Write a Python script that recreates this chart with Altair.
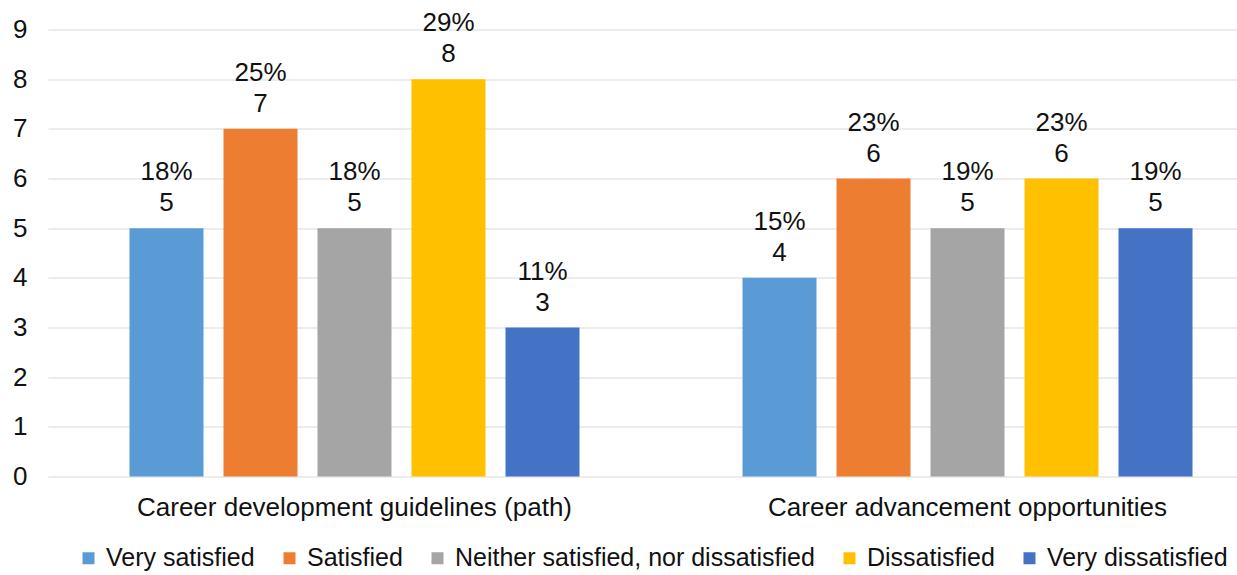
import altair as alt
import pandas as pd

# Survey results: number of respondents per satisfaction level, for two career topics
categories = ["Career development guidelines (path)", "Career advancement opportunities"]
responses = [
    "Very satisfied",
    "Satisfied",
    "Neither satisfied, nor dissatisfied",
    "Dissatisfied",
    "Very dissatisfied",
]
counts_guidelines = [5, 7, 5, 8, 3]
counts_advancement = [4, 6, 5, 6, 5]
pct_guidelines = ["18%", "25%", "18%", "29%", "11%"]
pct_advancement = ["15%", "23%", "19%", "23%", "19%"]
colors = ["#5B9BD5", "#ED7D31", "#A5A5A5", "#FFC000", "#4472C4"]

rows = []
for cat, counts, pcts in [
    (categories[0], counts_guidelines, pct_guidelines),
    (categories[1], counts_advancement, pct_advancement),
]:
    for resp, c, p in zip(responses, counts, pcts):
        rows.append({"group": cat, "response": resp, "count": c, "pct": p})
df = pd.DataFrame(rows)

FONT = "Liberation Sans"
TEXT = "#111111"

base = alt.Chart(df).encode(
    x=alt.X(
        "group:N",
        sort=categories,
        scale=alt.Scale(range=[0, 1226], paddingInner=0.2333, paddingOuter=0.11665),
        axis=alt.Axis(
            title=None,
            labelAngle=0,
            domain=False,
            ticks=False,
            labelFontSize=26,
            labelPadding=18,
            labelColor=TEXT,
            labelFont=FONT,
            labelLimit=800,
        ),
    ),
    xOffset=alt.XOffset(
        "response:N",
        sort=responses,
        scale=alt.Scale(paddingInner=0.2128, paddingOuter=0.1064),
    ),
    y=alt.Y(
        "count:Q",
        scale=alt.Scale(domain=[0, 9], nice=False),
        axis=alt.Axis(
            title=None,
            values=list(range(10)),
            domain=False,
            ticks=False,
            grid=True,
            gridColor="#D9D9D9",
            gridWidth=1.2,
            labelFontSize=26,
            labelPadding=21,
            labelColor=TEXT,
            labelFont=FONT,
        ),
    ),
)

bars = base.mark_bar().encode(
    color=alt.Color(
        "response:N",
        sort=responses,
        scale=alt.Scale(domain=responses, range=colors),
        legend=alt.Legend(
            title=None,
            orient="none",
            legendX=28,
            legendY=516,
            direction="horizontal",
            symbolType="square",
            symbolSize=144,
            symbolStrokeWidth=0,
            labelFontSize=25,
            labelFont=FONT,
            labelColor=TEXT,
            labelOffset=5,
            columnPadding=22,
            padding=0,
            labelLimit=800,
        ),
    )
)

count_labels = base.mark_text(
    dy=-17, fontSize=26, font=FONT, color=TEXT, baseline="alphabetic"
).encode(text="count:Q")

pct_labels = base.mark_text(
    dy=-48, fontSize=26, font=FONT, color=TEXT, baseline="alphabetic"
).encode(text="pct:N")

chart = (
    alt.layer(bars, count_labels, pct_labels)
    .properties(
        width=1189,
        height=447,
        autosize=alt.AutoSizeParams(type="none"),
        padding={"left": 48, "top": 29.5, "right": 0, "bottom": 98.5},
        background="white",
    )
    .configure_view(stroke=None)
)

chart.save("out.html", embed_options={"renderer": "svg", "actions": False})
